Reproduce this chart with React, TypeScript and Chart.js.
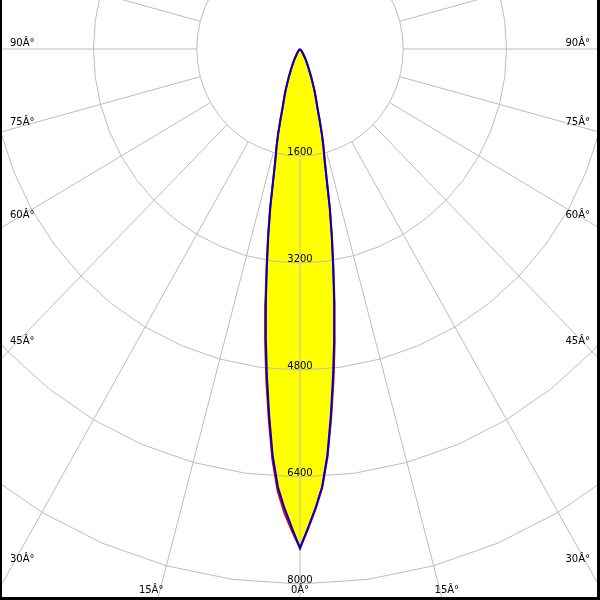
import React, { useEffect, useRef } from "react";
import { Chart, registerables } from "chart.js";

Chart.register(...registerables);

// Polar angles (degrees from nadir) and luminous intensities (cd)
const angles = [0, 1, 2, 3, 4, 5, 6, 7, 8, 9, 10, 11, 12, 13, 14, 15, 16, 17, 18, 19, 20, 22.5, 25, 27.5, 30, 35, 40, 45, 50, 55, 60, 65, 70, 75, 80, 85, 90];
const blueRight = [7465, 7161, 6871, 6555, 6086, 5491, 4906, 4350, 3800, 3277, 2830, 2409, 1982, 1689, 1499, 1301, 1098, 927, 817, 730, 646, 453, 312, 221, 155, 77, 35, 15, 7, 0, 0, 0, 0, 0, 0, 0, 0];
const blueLeft = [7465, 7161, 6871, 6555, 6086, 5491, 4906, 4350, 3800, 3277, 2830, 2409, 1982, 1689, 1499, 1301, 1098, 927, 817, 730, 646, 453, 312, 221, 155, 77, 35, 15, 7, 0, 0, 0, 0, 0, 0, 0, 0];
const redRight = [7465, 7175, 6885, 6570, 6115, 5540, 4970, 4410, 3845, 3310, 2854, 2426, 1994, 1696, 1503, 1304, 1101, 930, 819, 731, 647, 454, 313, 222, 155, 77, 35, 15, 7, 0, 0, 0, 0, 0, 0, 0, 0];
const redLeft = [7465, 7205, 6940, 6620, 6150, 5555, 4990, 4430, 3860, 3320, 2858, 2429, 1999, 1701, 1508, 1308, 1103, 932, 821, 732, 648, 455, 314, 222, 156, 78, 35, 15, 7, 0, 0, 0, 0, 0, 0, 0, 0];

const ringValues = [1600, 3200, 4800, 6400, 8000];
const ringLabels = ["1600", "3200", "4800", "6400", "8000"];
const angleTicks = [0, 15, 30, 45, 60, 75, 90];
const angleLabels = ["0Â°", "15Â°", "30Â°", "45Â°", "60Â°", "75Â°", "90Â°"];

// layout constants
const W = 600;
const H = 600;
const CENTER_X_PX = 300;
const CENTER_Y_PX = 49;
const CD_PER_PX = 8000 / 535;
const X_SQUEEZE = 0.965;
const RING_STEP_DEG = 7.5;
const SPOKE_STEP_DEG = 15;
const GRID_COLOR = "#bdbdbd";
const FONT = "10px 'DejaVu Sans'";

const rad = (d: number) => (d * Math.PI) / 180;

function buildPath(left: number[], right: number[]) {
  const pts: { x: number; y: number }[] = [];
  for (let i = angles.length - 1; i >= 0; i--) {
    const a = rad(angles[i]);
    pts.push({ x: -left[i] * Math.sin(a), y: -left[i] * Math.cos(a) });
  }
  for (let i = 1; i < angles.length; i++) {
    const a = rad(angles[i]);
    pts.push({ x: right[i] * Math.sin(a), y: -right[i] * Math.cos(a) });
  }
  return pts;
}

const gridPlugin = {
  id: "polarGrid",
  beforeDatasetsDraw(chart: any) {
    const { ctx } = chart;
    const xs = chart.scales.x;
    const ys = chart.scales.y;
    const P = (v: number, degFromDown: number) => {
      const a = rad(degFromDown);
      return [xs.getPixelForValue(v * Math.sin(a)), ys.getPixelForValue(-v * Math.cos(a))];
    };
    ctx.save();
    ctx.strokeStyle = GRID_COLOR;
    ctx.lineWidth = 1;
    const nRing = Math.round(360 / RING_STEP_DEG);
    for (const v of ringValues) {
      ctx.beginPath();
      for (let k = 0; k <= nRing; k++) {
        const [px, py] = P(v, k * RING_STEP_DEG);
        if (k === 0) ctx.moveTo(px, py);
        else ctx.lineTo(px, py);
      }
      ctx.closePath();
      ctx.stroke();
    }
    const nSpoke = Math.round(360 / SPOKE_STEP_DEG);
    for (let k = 0; k < nSpoke; k++) {
      const [x1, y1] = P(ringValues[0], k * SPOKE_STEP_DEG);
      const [x2, y2] = P(20000, k * SPOKE_STEP_DEG);
      ctx.beginPath();
      ctx.moveTo(x1, y1);
      ctx.lineTo(x2, y2);
      ctx.stroke();
    }
    ctx.restore();
  },
  afterDraw(chart: any) {
    const { ctx, chartArea } = chart;
    const xs = chart.scales.x;
    const ys = chart.scales.y;
    const cx = xs.getPixelForValue(0);
    const cy = ys.getPixelForValue(0);
    const left = chartArea.left + 2;
    const right = chartArea.right - 3;
    const bottom = chartArea.bottom - 3;
    ctx.save();
    ctx.font = FONT;
    ctx.fillStyle = "#000";
    ctx.textBaseline = "alphabetic";
    ringValues.forEach((v, i) => {
      const py = ys.getPixelForValue(-v);
      ctx.textAlign = "center";
      ctx.fillText(ringLabels[i], cx, py - 1);
    });
    angleTicks.forEach((deg, i) => {
      const a = rad(deg);
      const s = Math.sin(a);
      const c = Math.cos(a);
      const tSide = s > 1e-6 ? (cx - left) / s : Infinity;
      const tBottom = c > 1e-6 ? (bottom - cy) / c : Infinity;
      if (deg === 0) {
        ctx.textAlign = "center";
        ctx.fillText(angleLabels[i], cx, bottom - 4);
        return;
      }
      if (tSide < tBottom) {
        const yHit = cy + tSide * c;
        ctx.textAlign = "left";
        ctx.fillText(angleLabels[i], left + 8, yHit - 3.5);
        ctx.textAlign = "right";
        ctx.fillText(angleLabels[i], right - 7, yHit - 3.5);
      } else {
        const dx = tBottom * s;
        ctx.textAlign = "center";
        ctx.fillText(angleLabels[i], cx - dx - 2, bottom - 4);
        ctx.fillText(angleLabels[i], cx + dx, bottom - 4);
      }
    });
    ctx.fillStyle = "#000";
    ctx.fillRect(chartArea.left, chartArea.top, 2, chartArea.bottom - chartArea.top);
    ctx.fillRect(chartArea.right - 3, chartArea.top, 3, chartArea.bottom - chartArea.top);
    ctx.fillRect(chartArea.left, chartArea.bottom - 3, chartArea.right - chartArea.left, 3);
    ctx.restore();
  },
};

export default function App() {
  const ref = useRef<HTMLCanvasElement>(null);
  useEffect(() => {
    if (!ref.current) return;
    const bluePath = buildPath(blueLeft, blueRight);
    const redPath = buildPath(redLeft, redRight);
    const xHalf = (CENTER_X_PX * CD_PER_PX) / X_SQUEEZE;
    const chart = new Chart(ref.current, {
      type: "line",
      data: {
        datasets: [
          {
            label: "C90",
            data: bluePath,
            borderColor: "#0000c8",
            borderWidth: 2,
            pointRadius: 0,
            fill: false,
            tension: 0,
          },
          {
            label: "C0",
            data: redPath,
            borderColor: "#e00000",
            borderWidth: 2,
            pointRadius: 0,
            fill: false,
            tension: 0,
          },
          {
            label: "fill",
            data: bluePath,
            borderWidth: 0,
            borderColor: "rgba(0,0,0,0)",
            backgroundColor: "#ffff00",
            pointRadius: 0,
            fill: "shape",
            tension: 0,
          },
        ],
      },
      options: {
        animation: false,
        responsive: false,
        devicePixelRatio: 1,
        layout: { padding: 0, autoPadding: false },
        plugins: {
          legend: { display: false },
          tooltip: { enabled: false },
          filler: { drawTime: "beforeDatasetsDraw" },
        },
        scales: {
          x: {
            type: "linear",
            display: false,
            min: -xHalf,
            max: xHalf,
          },
          y: {
            type: "linear",
            display: false,
            min: -(H - CENTER_Y_PX) * CD_PER_PX,
            max: CENTER_Y_PX * CD_PER_PX,
          },
        },
      },
      plugins: [gridPlugin],
    } as any);
    return () => chart.destroy();
  }, []);
  return (
    <div style={{ position: "fixed", left: 0, top: 0, width: W, height: H, background: "#fff" }}>
      <canvas ref={ref} width={W} height={H} style={{ display: "block" }} />
    </div>
  );
}
